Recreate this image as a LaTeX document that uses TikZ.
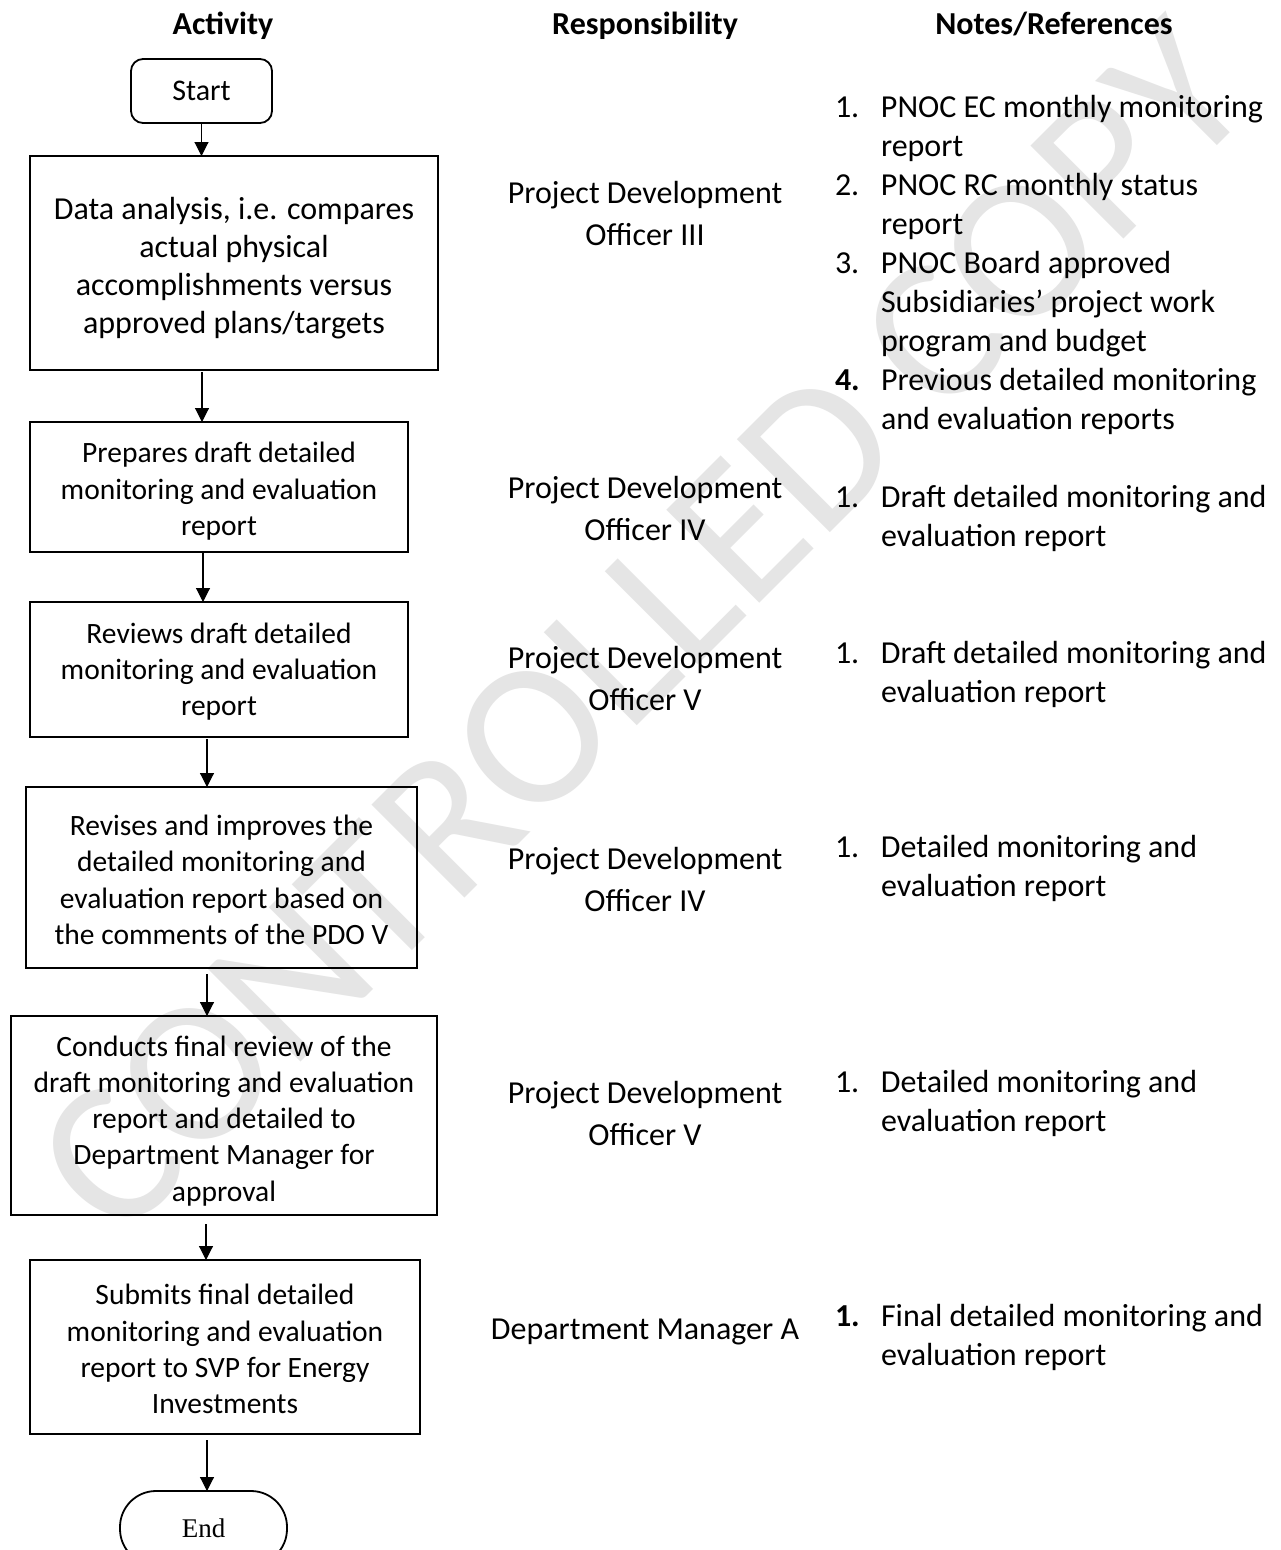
\documentclass[tikz,border=0pt]{standalone}
\usepackage{fontspec}
\setmainfont{Carlito}
\newfontfamily\serifend{Liberation Serif}
\usetikzlibrary{arrows.meta}
\newcommand\mylift[1]{\rule{0pt}{#1pt}}
\begin{document}
\begin{tikzpicture}[x=1pt,y=-1pt,
  every node/.style={inner sep=0pt, outer sep=0pt},
  box/.style={draw, line width=1.8pt, align=center, font=\fontsize{29.5}{36.3}\selectfont},
  bigbox/.style={box, font=\fontsize{32}{38}\selectfont},
  term/.style={draw, line width=1.8pt},
  arr/.style={line width=1.1pt, -{Triangle[width=14pt,length=14pt]}},
  hdr/.style={anchor=base, font=\fontsize{32}{38}\selectfont\bfseries},
  resp/.style={anchor=base, font=\fontsize{32}{42}\selectfont},
  note/.style={anchor=base west, font=\fontsize{32}{39}\selectfont},
  wmark/.style={text=black!10, font=\fontsize{205}{205}\selectfont, rotate=45}
]
\useasboundingbox (0,0) rectangle (1280,1550);
\fill[white] (0,0) rectangle (1280,1550);

% watermark
\node[wmark] (wm) at (642,628) {CONTROLLED COPY};

% headers
\node[hdr] (h1) at (223,34) {Activity};
\node[hdr] (h2) at (645,34) {Responsibility};
\node[hdr] (h3) at (1054,34) {Notes/References};

% activity column
\node[term, rounded corners=12pt, minimum width=141pt, minimum height=64pt,
      font=\fontsize{30}{36}\selectfont] (start) at (201.5,91) {Start};
\node[bigbox, minimum width=408pt, minimum height=214pt] (b1) at (234,263)
  {\mylift{33}Data analysis, i.e. compares\\actual physical\\accomplishments versus\\approved plans/targets};
\node[box, minimum width=378pt, minimum height=130pt] (b2) at (219,487)
  {\mylift{29}Prepares draft detailed\\monitoring and evaluation\\report};
\node[box, minimum width=378pt, minimum height=135pt] (b3) at (219,669.5)
  {\mylift{25}Reviews draft detailed\\monitoring and evaluation\\report};
\node[box, minimum width=391pt, minimum height=181pt] (b4) at (221.5,877.5)
  {\mylift{25}Revises and improves the\\detailed monitoring and\\evaluation report based on\\the comments of the PDO V};
\node[box, minimum width=426pt, minimum height=199pt] (b5) at (224,1115.5)
  {\mylift{31}Conducts final review of the\\draft monitoring and evaluation\\report and detailed to\\Department Manager for\\approval};
\node[box, minimum width=390pt, minimum height=174pt] (b6) at (225,1347)
  {\mylift{25}Submits final detailed\\monitoring and evaluation\\report to SVP for Energy\\Investments};
\node[term, rounded corners=36pt, minimum width=167pt, minimum height=74pt,
      font=\serifend\fontsize{27}{30}\selectfont] (end) at (203.5,1528) {End};

% connectors
\draw[arr] (start.south) -- (start.south |- b1.north);
\draw[arr] ([xshift=-32pt,yshift=-2pt]b1.south) -- ([xshift=-32pt]b1.south |- b2.north);
\draw[arr] ([xshift=-16pt]b2.south) -- ([xshift=-16pt]b2.south |- b3.north);
\draw[arr] ([xshift=-12pt,yshift=-2pt]b3.south) -- ([xshift=-12pt]b3.south |- b4.north);
\draw[arr] ([xshift=-14.5pt,yshift=-6pt]b4.south) -- ([xshift=-14.5pt]b4.south |- b5.north);
\draw[arr] ([xshift=-18pt,yshift=-9pt]b5.south) -- ([xshift=-18pt]b5.south |- b6.north);
\draw[arr] ([xshift=-18pt,yshift=-6pt]b6.south) -- ([xshift=-18pt]b6.south |- end.north);

% responsibility column
\node[resp] (r1) at (645,203) {\begin{tabular}[t]{@{}c@{}}Project Development\\Officer III\end{tabular}};
\node[resp] (r2) at (645,498) {\begin{tabular}[t]{@{}c@{}}Project Development\\Officer IV\end{tabular}};
\node[resp] (r3) at (645,668) {\begin{tabular}[t]{@{}c@{}}Project Development\\Officer V\end{tabular}};
\node[resp] (r4) at (645,869) {\begin{tabular}[t]{@{}c@{}}Project Development\\Officer IV\end{tabular}};
\node[resp] (r5) at (645,1103) {\begin{tabular}[t]{@{}c@{}}Project Development\\Officer V\end{tabular}};
\node[resp] (r6) at (645,1339) {Department Manager A};

% notes column
\node[note] (n1) at (835,117) {\begin{tabular}[t]{@{}p{46pt}@{}l@{}}
1. & PNOC EC monthly monitoring\\
   & report\\
2. & PNOC RC monthly status\\
   & report\\
3. & PNOC Board approved\\
   & Subsidiaries’ project work\\
   & program and budget\\
\textbf{4.} & Previous detailed monitoring\\
   & and evaluation reports
\end{tabular}};
\node[note] (n2) at (835,507) {\begin{tabular}[t]{@{}p{46pt}@{}l@{}}
1. & Draft detailed monitoring and\\
   & evaluation report
\end{tabular}};
\node[note] (n3) at (835,663) {\begin{tabular}[t]{@{}p{46pt}@{}l@{}}
1. & Draft detailed monitoring and\\
   & evaluation report
\end{tabular}};
\node[note] (n4) at (835,857) {\begin{tabular}[t]{@{}p{46pt}@{}l@{}}
1. & Detailed monitoring and\\
   & evaluation report
\end{tabular}};
\node[note] (n5) at (835,1092) {\begin{tabular}[t]{@{}p{46pt}@{}l@{}}
1. & Detailed monitoring and\\
   & evaluation report
\end{tabular}};
\node[note] (n6) at (835,1326) {\begin{tabular}[t]{@{}p{46pt}@{}l@{}}
\textbf{1.} & Final detailed monitoring and\\
   & evaluation report
\end{tabular}};
\end{tikzpicture}
\end{document}
